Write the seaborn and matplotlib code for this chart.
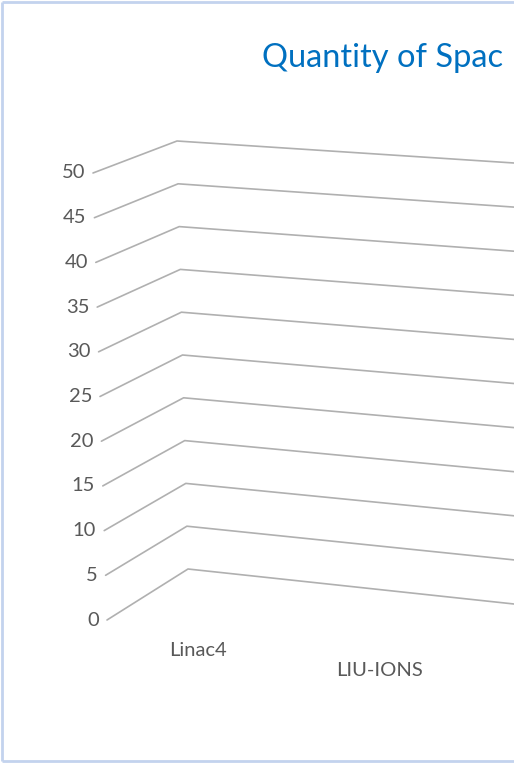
import matplotlib
matplotlib.use("Agg")
import matplotlib.pyplot as plt
import seaborn as sns
import pandas as pd

# ---- data ----
title = "Quantity of Spac"
categories = ["Linac4", "LIU-IONS"]
ticks = [0, 5, 10, 15, 20, 25, 30, 35, 40, 45, 50]
ymax = 50

sns.set_theme(style="white")
plt.rcParams['font.family'] = ['Lato', 'DejaVu Sans']

W, H = 514, 763
fig = plt.figure(figsize=(W / 100, H / 100), dpi=100)
ax = fig.add_axes([0, 0, 1, 1])

# perspective geometry of the 3D walls (pixel space)
def front(v):
    t = v / ymax
    return 107 - 14 * t, 620 - 447 * t

def corner(v):
    t = v / ymax
    return 188 - 11 * t, 569 - 428 * t

def right(v, x=540):
    cx, cy = corner(v)
    t = v / ymax
    ry = 604 - 441 * t  # y at x=514
    slope = (ry - cy) / (514 - cx)
    return x, cy + slope * (x - cx)

rows = []
for v in ticks:
    for i, p in enumerate([front(v), corner(v), right(v)]):
        rows.append({"level": v, "order": i, "x": p[0], "y": p[1]})
grid = pd.DataFrame(rows)

sns.lineplot(data=grid, x="x", y="y", units="level", estimator=None,
             sort=False, color="#B0B0B0", linewidth=1.2, ax=ax, legend=False)
ax.set_xlim(0, W)
ax.set_ylim(H, 0)
ax.axis('off')

# tick labels
for v in ticks:
    fx, fy = front(v)
    ax.text(fx - 8, fy, str(v), ha="right", va="center", fontsize=14.5,
            color="#595959")

# category labels
cat_pos = [(198, 650), (380, 670)]
for c, (x, y) in zip(categories, cat_pos):
    ax.text(x, y, c, ha="center", va="center", fontsize=14.5, color="#595959")

# title
ax.text(262, 67, title, ha="left", va="baseline", fontsize=23.5,
        color="#0070C0")

# chart border (left, top, bottom visible)
ax.plot([2, 2], [2, 761], color="#C3D3EE", lw=2, solid_capstyle="butt")
ax.plot([2, W + 5], [2, 2], color="#C3D3EE", lw=2, solid_capstyle="butt")
ax.plot([2, W + 5], [761, 761], color="#C3D3EE", lw=2, solid_capstyle="butt")

fig.savefig("out.png", dpi=100, facecolor="white")
